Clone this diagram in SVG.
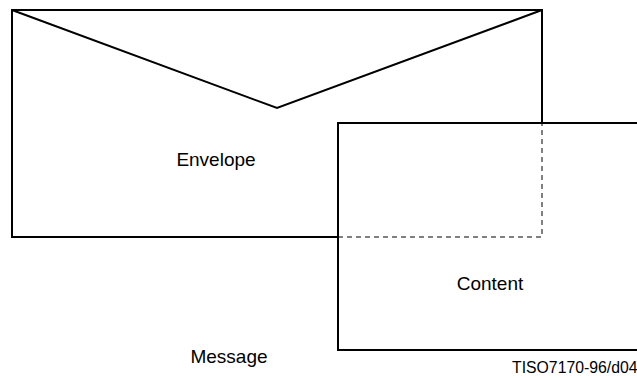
<svg xmlns="http://www.w3.org/2000/svg" width="637" height="378" viewBox="0 0 637 378">
<style>
.box{fill:#fff;stroke:#000;stroke-width:2}
.line{fill:none;stroke:#000;stroke-width:2}
.dash{fill:none;stroke:#000;stroke-width:1;stroke-dasharray:5 4}
text{font-family:"Liberation Sans",Arial,sans-serif;fill:#000}
.lbl{font-size:19px}
.id{font-size:15.8px}
</style>
<g id="envelope">
<rect class="box" x="12" y="10" width="530" height="227"/>
<polyline class="line" points="12,10 277,108 542,10"/>
<text class="lbl" x="216" y="166" text-anchor="middle">Envelope</text>
</g>
<g id="content">
<rect class="box" x="338" y="123" width="302" height="227"/>
<text class="lbl" x="490" y="290" text-anchor="middle">Content</text>
</g>
<g id="connectors">
<polyline class="dash" points="338,237 542,237 542,123"/>
</g>
<text class="lbl" x="229" y="363" text-anchor="middle">Message</text>
<text class="id" x="512" y="373">TISO7170-96/d04</text>
</svg>
